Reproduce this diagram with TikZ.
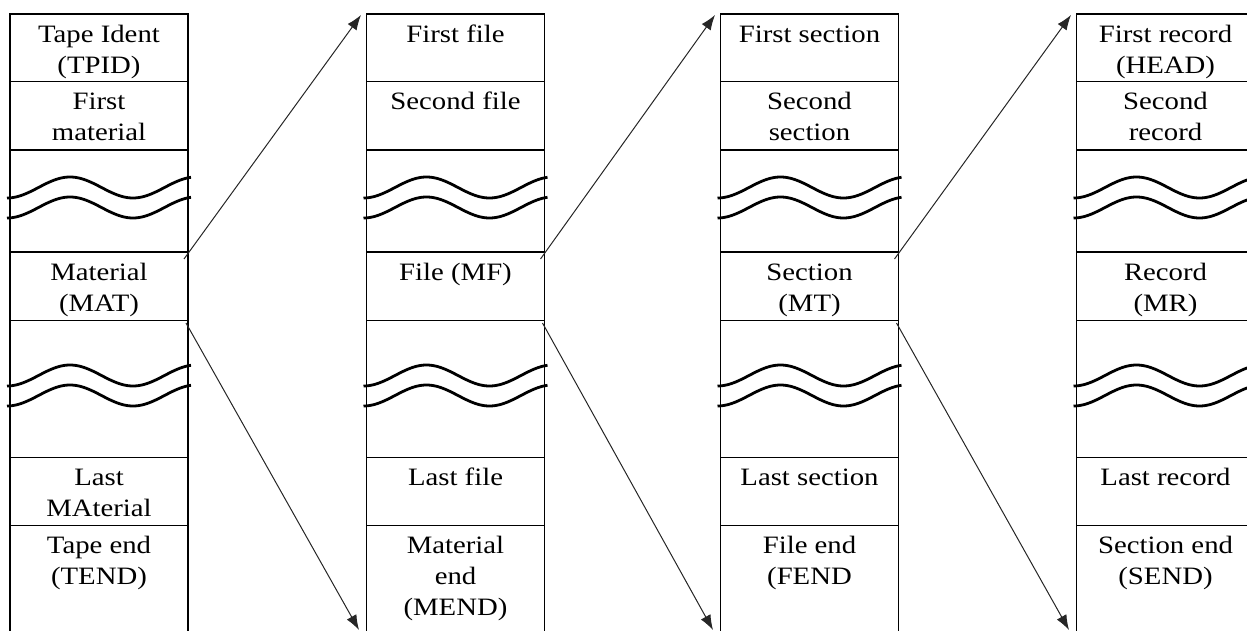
\documentclass[tikz,border=0pt]{standalone}
\usepackage{fontspec}
\setmainfont{Liberation Serif}[FakeStretch=1.15]
\usetikzlibrary{arrows.meta}
\begin{document}
\begin{tikzpicture}[x=1pt,y=-1pt,
  box/.style={line width=1.4pt},
  wave/.style={line width=2.8pt, line join=round},
  conn/.style={line width=1pt, draw=black!85, -{Latex[length=15pt,width=11pt]}},
  lbl/.style={anchor=north, inner sep=0pt, align=center, font=\fontsize{25}{31}\selectfont}]
\clip (0,0) rectangle (1247,631);
% columns
\foreach \cx in {10,366.5,720.5,1076.5}{
  \draw[box] (\cx,640) |- ({\cx+178},14) -- ({\cx+178},640);
  \foreach \ry in {81.5,150,252,320.5,457.5,525.5}
    \draw[box] (\cx,\ry) -- ++(178,0);
  \foreach \wy in {187.5,207.5,375.5,395.5}
    \draw[wave] plot[domain=-3:181, samples=80, smooth] ({\cx+\x},{\wy-10.5*cos((\x-60)*2.857)});
}
\newcommand\fl{\rule{0pt}{28pt}}
% column 1
\node[lbl] (a1) at (99,14) {\fl Tape Ident\\(TPID)};
\node[lbl] (a2) at (99,81.5) {\fl First\\material};
\node[lbl] (a3) at (99,252) {\fl Material\\(MAT)};
\node[lbl] (a4) at (99,457.5) {\fl Last\\MAterial};
\node[lbl] (a5) at (99,525.5) {\fl Tape end\\(TEND)};
% column 2
\node[lbl] (b1) at (455.5,14) {\fl First file};
\node[lbl] (b2) at (455.5,81.5) {\fl Second file};
\node[lbl] (b3) at (455.5,252) {\fl File (MF)};
\node[lbl] (b4) at (455.5,457.5) {\fl Last file};
\node[lbl] (b5) at (455.5,525.5) {\fl Material\\end\\(MEND)};
% column 3
\node[lbl] (c1) at (809.5,14) {\fl First section};
\node[lbl] (c2) at (809.5,81.5) {\fl Second\\section};
\node[lbl] (c3) at (809.5,252) {\fl Section\\(MT)};
\node[lbl] (c4) at (809.5,457.5) {\fl Last section};
\node[lbl] (c5) at (809.5,525.5) {\fl File end\\(FEND};
% column 4
\node[lbl] (d1) at (1165.5,14) {\fl First record\\(HEAD)};
\node[lbl] (d2) at (1165.5,81.5) {\fl Second\\record};
\node[lbl] (d3) at (1165.5,252) {\fl Record\\(MR)};
\node[lbl] (d4) at (1165.5,457.5) {\fl Last record};
\node[lbl] (d5) at (1165.5,525.5) {\fl Section end\\(SEND)};
% connector end points
\coordinate (a-su) at (184,259);   \coordinate (a-sl) at (186,323);
\coordinate (b-tu) at (361,15);    \coordinate (b-tl) at (359,630);
\coordinate (b-su) at (540.5,259); \coordinate (b-sl) at (542.5,323);
\coordinate (c-tu) at (715,15);    \coordinate (c-tl) at (713,630);
\coordinate (c-su) at (894.5,259); \coordinate (c-sl) at (896.5,323);
\coordinate (d-tu) at (1071,15);   \coordinate (d-tl) at (1069,630);
\draw[conn] (a-su) -- (b-tu);
\draw[conn] (a-sl) -- (b-tl);
\draw[conn] (b-su) -- (c-tu);
\draw[conn] (b-sl) -- (c-tl);
\draw[conn] (c-su) -- (d-tu);
\draw[conn] (c-sl) -- (d-tl);
\end{tikzpicture}
\end{document}
